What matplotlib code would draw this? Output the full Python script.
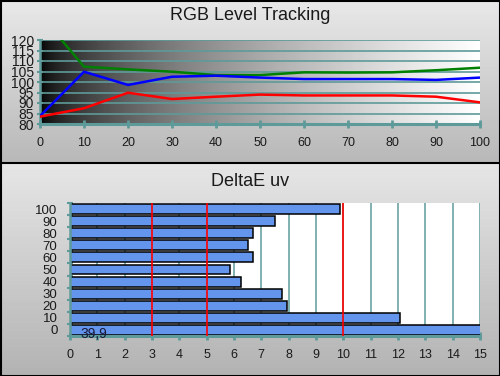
import numpy as np
import matplotlib
matplotlib.use("Agg")
import matplotlib.pyplot as plt

plt.rcParams['font.family'] = ['Liberation Sans', 'DejaVu Sans']

# ---- data ----
levels = [0, 10, 20, 30, 40, 50, 60, 70, 80, 90, 100]
red_vals = [83.5, 87.5, 94.9, 91.9, 93.0, 94.0, 93.6, 93.6, 93.6, 93.0, 90.3]
green_vals = [132.2, 107.3, 106.0, 104.9, 103.3, 103.3, 104.6, 104.5, 104.6, 105.6, 106.8]
blue_vals = [83.8, 104.9, 98.6, 102.5, 103.0, 102.1, 101.4, 101.4, 101.4, 101.0, 102.1]

de_categories = ['0', '10', '20', '30', '40', '50', '60', '70', '80', '90', '100']
de_values = [39.9, 12.09, 7.95, 7.74, 6.27, 5.87, 6.71, 6.52, 6.71, 7.51, 9.89]
de_label = '39,9'
ref_lines = [3, 5, 10]

title_top = 'RGB Level Tracking'
title_bottom = 'DeltaE uv'

TEAL = '#5f9a9a'

W, H = 500, 376
fig = plt.figure(figsize=(W / 100, H / 100), dpi=100)

# ---- background gradient panels ----
bg = fig.add_axes([0, 0, 1, 1], zorder=-10)
bg.set_axis_off()
img = np.zeros((H, W))
split = 163
top_rows = np.linspace(0.91, 0.72, split)
bot_rows = np.linspace(0.90, 0.70, H - split)
img[:split, :] = top_rows[:, None]
img[split:, :] = bot_rows[:, None]
bg.imshow(img, extent=[0, 1, 0, 1], aspect='auto', cmap='gray', vmin=0, vmax=1,
          interpolation='bilinear')
bg.set_xlim(0, 1)
bg.set_ylim(0, 1)
# borders
bg.plot([0, 1], [1 - split / H, 1 - split / H], color='black', lw=1.5)
bg.add_patch(plt.Rectangle((0.001, 0.001), 0.998, 0.997, fill=False, ec='black', lw=1.5))

# ---- top panel ----
fig.text(0.5, 1 - 16 / H, title_top, ha='center', va='center', fontsize=13, color='#1a1a1a')
ax1 = fig.add_axes([40 / W, 1 - 124 / H, 440 / W, 84 / H])
grad = np.linspace(0, 1, 400) ** 0.6
ax1.imshow(grad[None, :], extent=[0, 100, 80, 120], aspect='auto', cmap='gray',
           vmin=0, vmax=1, zorder=0)
ax1.set_xlim(0, 100)
ax1.set_ylim(80, 120)
ax1.set_yticks(np.arange(80, 121, 5))
ax1.set_xticks(levels)
ax1.yaxis.grid(True, color=TEAL, lw=1.2, zorder=1)
ax1.set_axisbelow(False)
ax1.plot(levels, green_vals, color='#008000', lw=1.8, zorder=3)
ax1.plot(levels, blue_vals, color='#0000ff', lw=1.8, zorder=3)
ax1.plot(levels, red_vals, color='#ff0000', lw=1.8, zorder=3)
for s in ['top', 'right']:
    ax1.spines[s].set_visible(False)
ax1.spines['left'].set_color(TEAL)
ax1.spines['left'].set_linewidth(1.8)
ax1.spines['bottom'].set_color(TEAL)
ax1.spines['bottom'].set_linewidth(2.2)
ax1.tick_params(axis='x', direction='inout', length=6, width=2, color=TEAL,
                labelsize=9, pad=6, labelcolor='#1a1a1a')
ax1.tick_params(axis='y', direction='inout', length=5, width=1.5, color=TEAL,
                labelsize=10, pad=2, labelcolor='#1a1a1a')

# ---- bottom panel ----
fig.text(0.5, 1 - 182 / H, title_bottom, ha='center', va='center', fontsize=13, color='#1a1a1a')
ax2 = fig.add_axes([70 / W, 1 - 336 / H, 410 / W, 133 / H])
ax2.set_facecolor('white')
ypos = np.arange(len(de_categories))
ax2.barh(ypos, de_values, height=0.82, color='#6495ED', edgecolor='black', lw=1.1, zorder=2)
ax2.set_xlim(0, 15)
ax2.set_ylim(-0.5, len(de_categories) - 0.5)
ax2.set_xticks(np.arange(0, 16, 1))
ax2.set_yticks(ypos)
ax2.set_yticklabels(de_categories)
ax2.set_yticks(np.arange(-0.5, len(de_categories), 1), minor=True)
ax2.xaxis.grid(True, color=TEAL, lw=1.1, zorder=0.5)
ax2.set_axisbelow(True)
for x in ref_lines:
    ax2.axvline(x, color='#ff0000', lw=1.2, zorder=4)
ax2.text(0.86, -0.35, de_label, ha='center', va='center', fontsize=10,
         color='#1a1a3a', zorder=5, clip_on=False)
for s in ['top', 'right']:
    ax2.spines[s].set_visible(False)
ax2.spines['left'].set_color(TEAL)
ax2.spines['left'].set_linewidth(1.8)
ax2.spines['bottom'].set_color(TEAL)
ax2.spines['bottom'].set_linewidth(2.2)
ax2.tick_params(axis='x', direction='inout', length=6, width=2, color=TEAL,
                labelsize=9, pad=6, labelcolor='#1a1a1a')
ax2.tick_params(axis='y', which='major', length=0, labelsize=9.5, pad=9,
                labelcolor='#1a1a1a')
ax2.tick_params(axis='y', which='minor', direction='inout', length=5, width=1.5, color=TEAL)

fig.savefig('out.png', dpi=100)
